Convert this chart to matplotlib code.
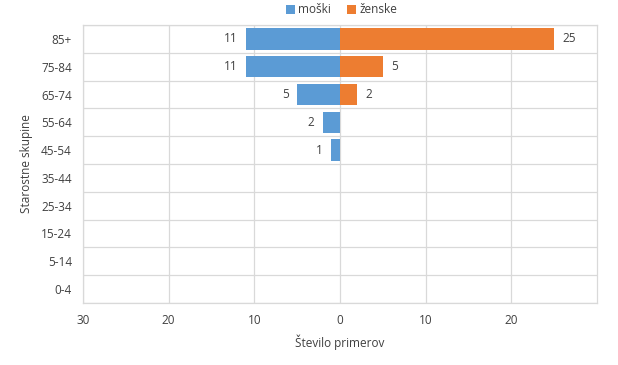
import matplotlib
matplotlib.use("Agg")
import matplotlib.pyplot as plt
import numpy as np
from matplotlib.ticker import FixedLocator, FuncFormatter

plt.rcParams['font.family'] = ['Open Sans', 'DejaVu Sans']

categories = ["0-4", "5-14", "15-24", "25-34", "35-44", "45-54", "55-64", "65-74", "75-84", "85+"]
moski = [0, 0, 0, 0, 0, 1, 2, 5, 11, 11]
zenske = [0, 0, 0, 0, 0, 0, 0, 2, 5, 25]
xticks = [-30, -20, -10, 0, 10, 20]

blue = "#5B9BD5"
orange = "#ED7D31"
grid = "#D9D9D9"
txt = "#404040"
fs = 8.5

fig = plt.figure(figsize=(6.18, 3.65), dpi=100)
ax = fig.add_axes([83/618, 1 - 303/365, (597-83)/618, (303-25)/365])

y = np.arange(len(categories))
h = 0.77
ax.barh(y, [-v for v in moski], height=h, color=blue, label="moški", zorder=3)
ax.barh(y, zenske, height=h, color=orange, label="ženske", zorder=3)

for yi, v in zip(y, moski):
    if v:
        ax.text(-v - 1.0, yi, str(v), ha="right", va="center", fontsize=fs, color=txt)
for yi, v in zip(y, zenske):
    if v:
        ax.text(v + 1.0, yi, str(v), ha="left", va="center", fontsize=fs, color=txt)

ax.set_xlim(-30, 30)
ax.set_ylim(-0.5, len(categories) - 0.5)
ax.set_xticks(xticks)
ax.xaxis.set_major_formatter(FuncFormatter(lambda v, p: f"{abs(int(v))}"))
ax.set_yticks(y)
ax.set_yticklabels(categories)
ax.yaxis.set_minor_locator(FixedLocator(np.arange(-0.5, len(categories), 1)))
ax.grid(axis="x", which="major", color=grid, linewidth=0.9, zorder=0)
ax.grid(axis="y", which="minor", color=grid, linewidth=0.9, zorder=0)
ax.tick_params(axis="both", which="both", length=0, labelsize=fs, colors=txt)
ax.tick_params(axis="x", pad=8)
ax.tick_params(axis="y", pad=8)
for s in ax.spines.values():
    s.set_color(grid)
    s.set_linewidth(0.9)

ax.set_xlabel("Število primerov", fontsize=fs, color=txt, labelpad=5)
ax.set_ylabel("Starostne skupine", fontsize=fs, color=txt, labelpad=6)

leg = fig.legend(loc="upper center", bbox_to_anchor=(0.553, 1.02), ncol=2, frameon=False,
                 fontsize=fs, handlelength=0.75, handleheight=0.75, handletextpad=0.3,
                 columnspacing=1.4, labelcolor=txt)

fig.savefig("out.png", dpi=100)
